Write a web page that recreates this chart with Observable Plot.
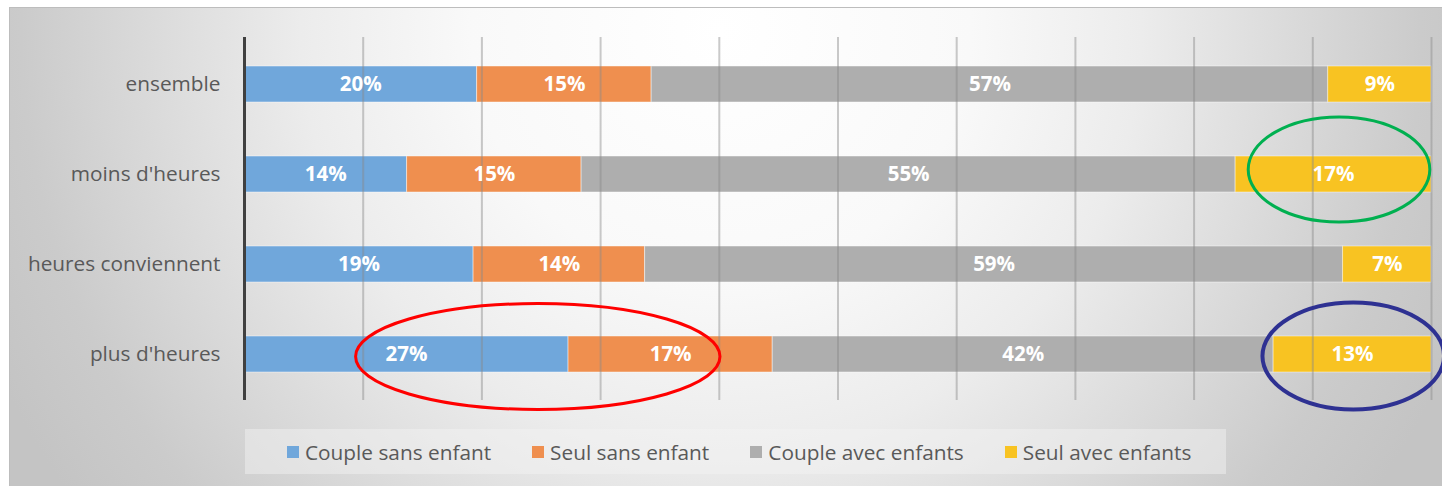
<!DOCTYPE html>
<html>
<head>
<meta charset="utf-8">
<script src="https://cdn.jsdelivr.net/npm/d3@7"></script>
<script src="https://cdn.jsdelivr.net/npm/@observablehq/plot@0.6"></script>
<style>
  html, body { margin: 0; padding: 0; background: #ffffff; width: 1442px; height: 486px; overflow: hidden; }
  #frame {
    position: absolute; left: 9px; top: 7px; width: 1433px; height: 479px;
    border-top: 1px solid #bdbdbd; border-left: 1px solid #bdbdbd; box-sizing: border-box;
    background: radial-gradient(circle 800px at 711px 23px, #ffffff 0px, #f9f9f9 250px, #ececec 420px, #cbcbcb 700px, #c4c4c4 800px);
  }
  #chart { position: absolute; left: 0; top: 0; }
  #legend {
    position: absolute; left: 245px; top: 429px; width: 981px; height: 45px;
    background: rgba(245,245,245,0.45);
    display: flex; align-items: center; padding-left: 42px; box-sizing: border-box;
    font-family: "Open Sans", sans-serif; font-size: 20.8px; color: #595959;
  }
  .item { display: flex; align-items: center; margin-right: 41px; white-space: nowrap; }
  .sw { width: 12px; height: 12px; margin-right: 6px; }
</style>
</head>
<body>
<div id="frame"></div>
<div id="chart"></div>
<div id="legend"></div>
<script>
const categories = ["ensemble", "moins d'heures", "heures conviennent", "plus d'heures"];
const series = ["Couple sans enfant", "Seul sans enfant", "Couple avec enfants", "Seul avec enfants"];
const coupleSansEnfant = [19.6, 13.7, 19.3, 27.3];
const seulSansEnfant = [14.7, 14.7, 14.45, 17.2];
const coupleAvecEnfants = [57.0, 55.1, 58.8, 42.2];
const seulAvecEnfants = [8.7, 16.5, 7.45, 13.3];
const gridTicks = [10, 20, 30, 40, 50, 60, 70, 80, 90, 100];
const colors = ["#70A7DB", "#EF8F4F", "#AEAEAE", "#F8C322"];

const seriesValues = [coupleSansEnfant, seulSansEnfant, coupleAvecEnfants, seulAvecEnfants];
const rows = [];
categories.forEach((c, i) => {
  series.forEach((s, j) => rows.push({category: c, series: s, value: seriesValues[j][i]}));
});

// highlight annotations (in % of the x scale, attached to a category)
const highlights = [
  {category: "moins d'heures", from: 84.6, to: 99.9, color: "#00B050", width: 3, dy: -4.5, ry: 52.5},
  {category: "plus d'heures", from: 9.4, to: 40.1, color: "#FF0000", width: 3, dy: 2.5, ry: 53},
  {category: "plus d'heures", from: 85.8, to: 101.1, color: "#2E3192", width: 4, dy: 2, ry: 53.5}
];

const plot = Plot.plot({
  width: 1442,
  height: 426,
  marginLeft: 244,
  marginRight: 11,
  marginTop: 37,
  marginBottom: 26,
  x: {domain: [0, 100], axis: null},
  y: {domain: categories, paddingInner: 0.605, paddingOuter: 0.31, label: null, axis: null},
  color: {domain: series, range: colors},
  style: {background: "transparent", fontFamily: "'Open Sans', sans-serif", fontSize: "20.8px", color: "#595959", overflow: "visible"},
  marks: [
    Plot.barX(rows, Plot.stackX({x: "value", y: "category", fill: "series", stroke: "#ffffff", strokeOpacity: 0.45, strokeWidth: 1})),
    Plot.ruleX(gridTicks, {stroke: "#8a8a8a", strokeOpacity: 0.45, strokeWidth: 2}),
    Plot.ruleX([0], {stroke: "#404040", strokeWidth: 3}),
    Plot.text(rows, Plot.stackX({x: "value", y: "category", z: "series", text: d => Math.round(d.value) + "%", fill: "#ffffff", fontWeight: "bold", fontSize: 20.5})),
    Plot.axisY({tickSize: 0, tickPadding: 24, fontSize: 20.8, label: null, fill: "#595959"})
  ]
});
document.getElementById("chart").appendChild(plot);

// draw the ellipses through the plot's scales
const sx = plot.scale("x"), sy = plot.scale("y");
const svg = d3.select(plot);
highlights.forEach(h => {
  const x0 = sx.apply(h.from), x1 = sx.apply(h.to);
  const cy = sy.apply(h.category) + sy.bandwidth / 2 + h.dy;
  svg.append("ellipse")
    .attr("cx", (x0 + x1) / 2).attr("cy", cy)
    .attr("rx", (x1 - x0) / 2).attr("ry", h.ry)
    .attr("fill", "none").attr("stroke", h.color).attr("stroke-width", h.width);
});

// legend
const legend = d3.select("#legend");
series.forEach((s, i) => {
  const it = legend.append("div").attr("class", "item");
  it.append("div").attr("class", "sw").style("background", colors[i]);
  it.append("span").text(s);
});
</script>
</body>
</html>
